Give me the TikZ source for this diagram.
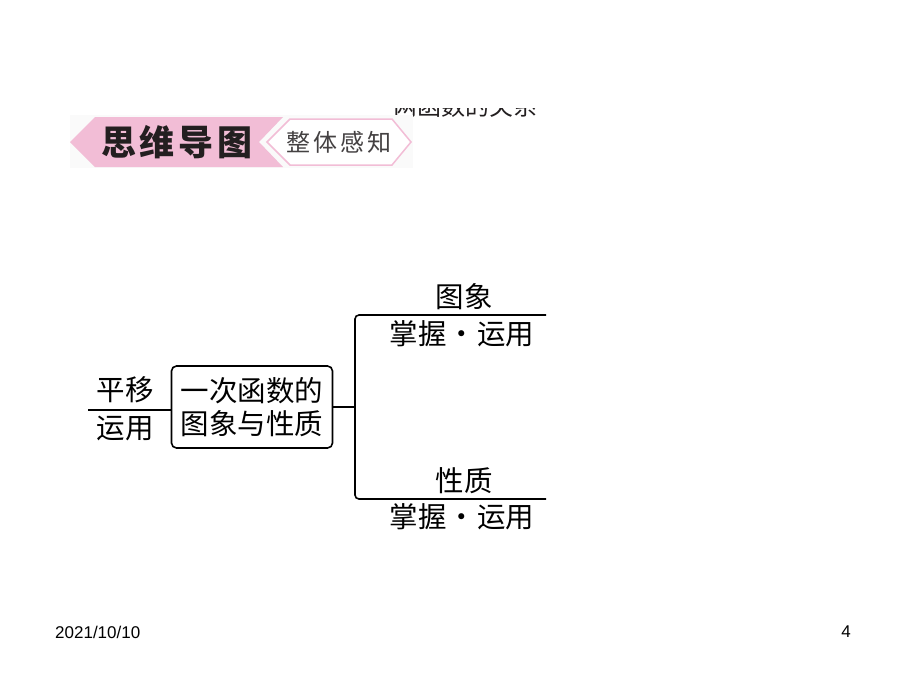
\documentclass[tikz,border=0pt]{standalone}
\usepackage{fontspec}
\setmainfont{Liberation Sans}
\newfontfamily\cjk{Noto Sans CJK SC}
\usetikzlibrary{positioning}
\definecolor{bannerpink}{HTML}{F2BDD6}
\definecolor{inkgray}{HTML}{231F20}
\newcommand\maptext{\cjk\fontsize{28.5}{33}\selectfont}
\tikzstyle{mapbox} = [rectangle, draw, line width=1.6pt, rounded corners=5pt, minimum width=161pt, minimum height=82pt, inner sep=0pt, align=center, font=\maptext]
\tikzstyle{tag} = [inner sep=0pt, font=\maptext]
\tikzstyle{branch} = [draw, line width=1.6pt, rounded corners=4pt]
\tikzstyle{foot} = [inner sep=0pt, font=\fontsize{17}{20}\selectfont]

\begin{document}
\begin{tikzpicture}[x=1pt, y=-1pt]
	\useasboundingbox (0,0) rectangle (900,675);
	\fill[white] (0,0) rectangle (900,675);
	%% clipped heading
	\begin{scope}
		\clip (385,108) rectangle (552,118);
		\node[anchor=base west, inner sep=0pt, font=\cjk\fontsize{24}{28}\selectfont, text=inkgray] (cut) at (393,115) {两函数的关系};
	\end{scope}
	%% banner
	\fill[gray!4] (70,115) rectangle (413,168);
	\fill[bannerpink] (70,142) -- (95,117) -- (283,117) -- (259,142) -- (283,167) -- (95,167) -- cycle;
	\filldraw[fill=white, draw=bannerpink, line width=1.5pt] (267,142) -- (290,119) -- (392,119) -- (411,142) -- (392,165) -- (290,165) -- cycle;
	\node[inner sep=0pt, text=inkgray, font=\cjk\bfseries\fontsize{35}{38}\selectfont] (mind) at (177,142) {思\hspace{4pt}维\hspace{4pt}导\hspace{4pt}图};
	\node[inner sep=0pt, text=inkgray!85, font=\cjk\fontsize{24}{28}\selectfont] (whole) at (339,142) {整\hspace{3pt}体\hspace{3pt}感\hspace{3pt}知};
	%% centre box
	\node[mapbox] (main) at (252,407) {一次函数的\\图象与性质};
	%% left branch
	\coordinate (moveend) at (88,410);
	\node[tag] (move) at (125,390) {平移};
	\node[tag] (moveuse) at (125,429) {运用};
	%% right branch
	\coordinate (fork) at (355,407);
	\coordinate (imgend) at (546,315);
	\coordinate (propend) at (546,499);
	\node[tag] (img) at (464,297) {图象};
	\node[tag] (imguse) at (462,334) {掌握\hspace{1pt}·\hspace{1pt}运用};
	\node[tag] (prop) at (464,481) {性质};
	\node[tag] (propuse) at (462,517) {掌握\hspace{1pt}·\hspace{1pt}运用};
	%% footer
	\node[foot, anchor=west] (date) at (55,632) {2021/10/10};
	\node[foot] (page) at (846,632) {4};
	%% edges
	\path[branch] (moveend) -- (moveend -| main.west);
	\path[branch] (main.east) -- (fork);
	\path[branch] (imgend) -| (fork) |- (propend);
\end{tikzpicture}
\end{document}
